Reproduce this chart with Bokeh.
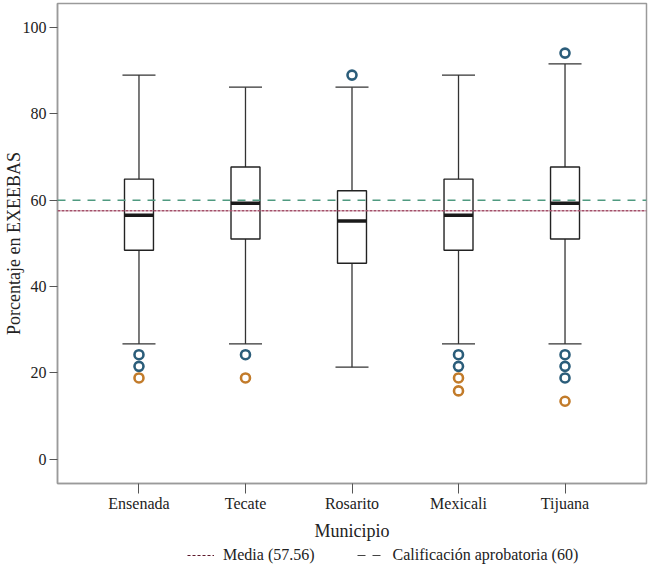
from bokeh.plotting import figure
from bokeh.layouts import column
from bokeh.models import Span, Legend, LegendItem, FixedTicker, ColumnDataSource, Range1d
from bokeh.transform import dodge
from bokeh.embed import file_html
from bokeh.resources import INLINE

categories = ["Ensenada", "Tecate", "Rosarito", "Mexicali", "Tijuana"]
q1 = [48.4, 51.0, 45.4, 48.4, 51.0]
median = [56.5, 59.3, 55.2, 56.5, 59.3]
q3 = [64.9, 67.7, 62.2, 64.9, 67.7]
whisker_low = [26.7, 26.7, 21.3, 26.7, 26.7]
whisker_high = [89.0, 86.2, 86.2, 89.0, 91.6]

blue_cat = ["Ensenada", "Ensenada", "Tecate", "Rosarito", "Mexicali", "Mexicali",
            "Tijuana", "Tijuana", "Tijuana", "Tijuana"]
blue_val = [24.2, 21.5, 24.2, 89.0, 24.2, 21.5, 94.1, 24.2, 21.5, 18.8]
orange_cat = ["Ensenada", "Tecate", "Mexicali", "Mexicali", "Tijuana"]
orange_val = [18.8, 18.8, 18.8, 15.8, 13.4]

mean_value = 57.56
pass_value = 60
y_ticks = [0, 20, 40, 60, 80, 100]

FONT = "Liberation Serif"
TXT = "#222222"

pos = {c: i + 1 for i, c in enumerate(categories)}
xs = [pos[c] for c in categories]

p = figure(width=650, height=543, output_backend="svg", toolbar_location=None,
           x_range=(0.235, 5.765), y_range=(-5.66, 105.6),
           min_border_left=10, min_border_right=4, min_border_top=3, min_border_bottom=59)
p.xgrid.visible = False
p.ygrid.visible = False
p.outline_line_color = "#9a9a9a"
p.outline_line_width = 1.5
p.background_fill_color = "white"
p.border_fill_color = "white"

src = ColumnDataSource(dict(x=xs, q1=q1, med=median, q3=q3, lo=whisker_low, hi=whisker_high))
cap_w = 0.31
box_w = 0.272

p.segment(x0="x", y0="q3", x1="x", y1="hi", source=src, line_color="#333333", line_width=1.3)
p.segment(x0="x", y0="q1", x1="x", y1="lo", source=src, line_color="#333333", line_width=1.3)
p.segment(x0=dodge("x", -cap_w / 2), y0="hi", x1=dodge("x", cap_w / 2), y1="hi", source=src,
          line_color="#333333", line_width=1.3)
p.segment(x0=dodge("x", -cap_w / 2), y0="lo", x1=dodge("x", cap_w / 2), y1="lo", source=src,
          line_color="#333333", line_width=1.3)
p.vbar(x="x", width=box_w, bottom="q1", top="q3", source=src, fill_color="white",
       line_color="#222222", line_width=1.4)
p.segment(x0=dodge("x", -box_w / 2), y0="med", x1=dodge("x", box_w / 2), y1="med", source=src,
          line_color="#1a1a1a", line_width=3.5)

p.scatter(x=[pos[c] for c in blue_cat], y=blue_val, size=9, marker="circle",
          fill_color="white", line_color="#2b5d7a", line_width=2.6)
p.scatter(x=[pos[c] for c in orange_cat], y=orange_val, size=9, marker="circle",
          fill_color="white", line_color="#c27b2a", line_width=2.6)

mean_color = "#a3506a"
pass_color = "#4f9a80"
p.add_layout(Span(location=mean_value, dimension="width", line_color=mean_color,
                  line_width=1.3, line_dash="3 1"))
p.add_layout(Span(location=pass_value, dimension="width", line_color=pass_color,
                  line_width=1.4, line_dash="8 7"))

# axes
p.xaxis.ticker = FixedTicker(ticks=xs)
p.xaxis.major_label_overrides = {pos[c]: c for c in categories}
p.yaxis.ticker = FixedTicker(ticks=y_ticks)
for ax in (p.xaxis[0], p.yaxis[0]):
    ax.axis_line_color = "#9a9a9a"
    ax.axis_line_width = 1.5
    ax.major_tick_line_color = "#555555"
    ax.major_tick_in = 0
    ax.minor_tick_line_color = None
    ax.major_label_text_font = FONT
    ax.major_label_text_font_size = "16px"
    ax.major_label_text_color = TXT
    ax.axis_label_text_font = FONT
    ax.axis_label_text_font_size = "18px"
    ax.axis_label_text_font_style = "normal"
    ax.axis_label_text_color = TXT
p.xaxis.major_tick_out = 10
p.xaxis.major_label_standoff = 1
p.xaxis.axis_label = "Municipio"
p.xaxis.axis_label_standoff = 6
p.yaxis.major_tick_out = 8
p.yaxis.major_label_standoff = 3
p.yaxis.axis_label = "Porcentaje en EXEEBAS"
p.yaxis.axis_label_standoff = -4

# legend strip underneath
lg = figure(width=650, height=23, output_backend="svg", toolbar_location=None,
            x_range=Range1d(0, 1), y_range=Range1d(0, 1),
            min_border_left=0, min_border_right=0, min_border_top=0, min_border_bottom=0)
lg.axis.visible = False
lg.grid.visible = False
lg.outline_line_color = None
lg.background_fill_color = "white"
lg.border_fill_color = "white"
r_mean = lg.line(x=[5, 6], y=[5, 5], line_color="#5e1a2c", line_width=1.2, line_dash="3 2")
r_pass = lg.line(x=[5, 6], y=[5, 5], line_color="#444444", line_width=1.2, line_dash="8 7")

legend = Legend(items=[LegendItem(label="Media (57.56)", renderers=[r_mean]),
                       LegendItem(label="Calificación aprobatoria (60)", renderers=[r_pass])],
                orientation="horizontal", location=(130, 2))
legend.border_line_color = None
legend.background_fill_alpha = 0
legend.glyph_width = 27
legend.glyph_height = 14
legend.label_standoff = 9
legend.spacing = 42
legend.padding = 0
legend.margin = 0
legend.label_text_font = FONT
legend.label_text_font_size = "16px"
legend.label_text_color = TXT
lg.add_layout(legend, "center")

layout = column(p, lg, spacing=0)
open("out.html", "w").write(file_html(layout, INLINE))
